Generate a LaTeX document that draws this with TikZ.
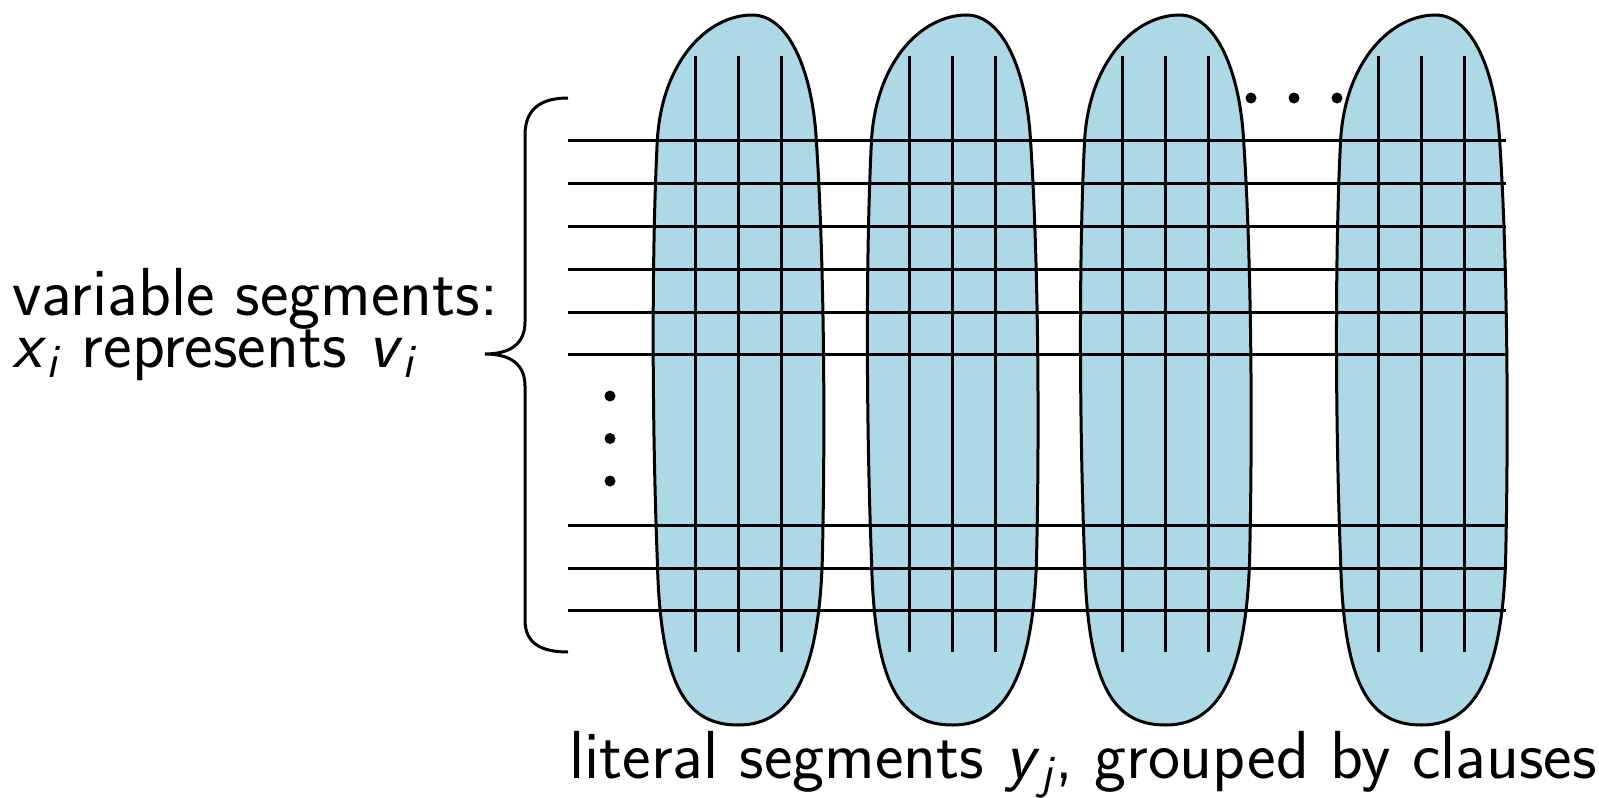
\documentclass[tikz,border=0pt]{standalone}
\usepackage{fontspec}
\definecolor{clausefill}{RGB}{173,216,230}
\tikzset{
  seg/.style={line width=3pt},
  clause/.style={fill=clausefill, draw=black, line width=3pt},
  lbl/.style={font=\sffamily\fontsize{68}{80}\selectfont, inner sep=0pt},
  dotmark/.style={fill=black, circle, inner sep=0pt, minimum size=11pt}
}
% italic letter with a lowered italic index
\newcommand\subvar[2]{\textit{#1}\raisebox{-0.16em}{\fontsize{48}{50}\selectfont\textit{#2}}}
\begin{document}
\begin{tikzpicture}[x=1pt,y=-1pt]
\useasboundingbox (0,0) rectangle (1599,798);

% clause groups (rounded blobs)
\foreach \c in {738.3,952.5,1165.6,1421.6}{
  \path[clause] (\c,725)
    .. controls (\c+45,725) and (\c+80,690) .. (\c+84,560)
    .. controls (\c+87,430) and (\c+86,260) .. (\c+78,140)
    .. controls (\c+74,70) and (\c+50,15) .. (\c+14,15)
    .. controls (\c-30,15) and (\c-76,60) .. (\c-81,140)
    .. controls (\c-87,260) and (\c-86,430) .. (\c-81,560)
    .. controls (\c-78,690) and (\c-50,725) .. (\c,725) -- cycle;
}

% variable segments (horizontal)
\foreach \y [count=\k] in {140.7,183.6,226.4,269.2,312.1,354.9,525.2,568,610.9}{
  \coordinate (xs\k) at (568,\y);
  \coordinate (xe\k) at (1506,\y);
  \draw[seg] (xs\k) -- (xe\k);
}

% literal segments (vertical)
\foreach \c in {738.3,952.5,1165.6,1421.6}{
  \foreach \d in {-42.8,0,42.8}{
    \coordinate (yt) at (\c+\d,56);
    \coordinate (yb) at (\c+\d,652);
    \draw[seg] (yt) -- (yb);
  }
}

% ellipses
\node[dotmark] (hd1) at (1251,98) {};
\node[dotmark] (hd2) at (1294,98) {};
\node[dotmark] (hd3) at (1337,98) {};
\node[dotmark] (vd1) at (610,396) {};
\node[dotmark] (vd2) at (610,438.5) {};
\node[dotmark] (vd3) at (610,481) {};

% brace over the variable segments
\coordinate (btop) at (568,98);
\coordinate (btip) at (485,354);
\coordinate (bbot) at (568,652);
\draw[seg] (btop) .. controls (542,98) and (525,108) .. (525,135)
  -- (525,322) .. controls (525,344) and (510,354) .. (btip)
  .. controls (510,354) and (525,364) .. (525,386)
  -- (525,620) .. controls (525,644) and (542,652) .. (bbot);

% labels
\node[lbl, anchor=base west] (varA) at (12,315) {variable segments:};
\node[lbl, anchor=base west] (varB) at (12,367) {\subvar{x}{i} represents \subvar{v}{i}};
\node[lbl, anchor=base west] (lit) at (569,778) {literal segments \subvar{y}{j}, grouped by clauses};
\end{tikzpicture}
\end{document}
